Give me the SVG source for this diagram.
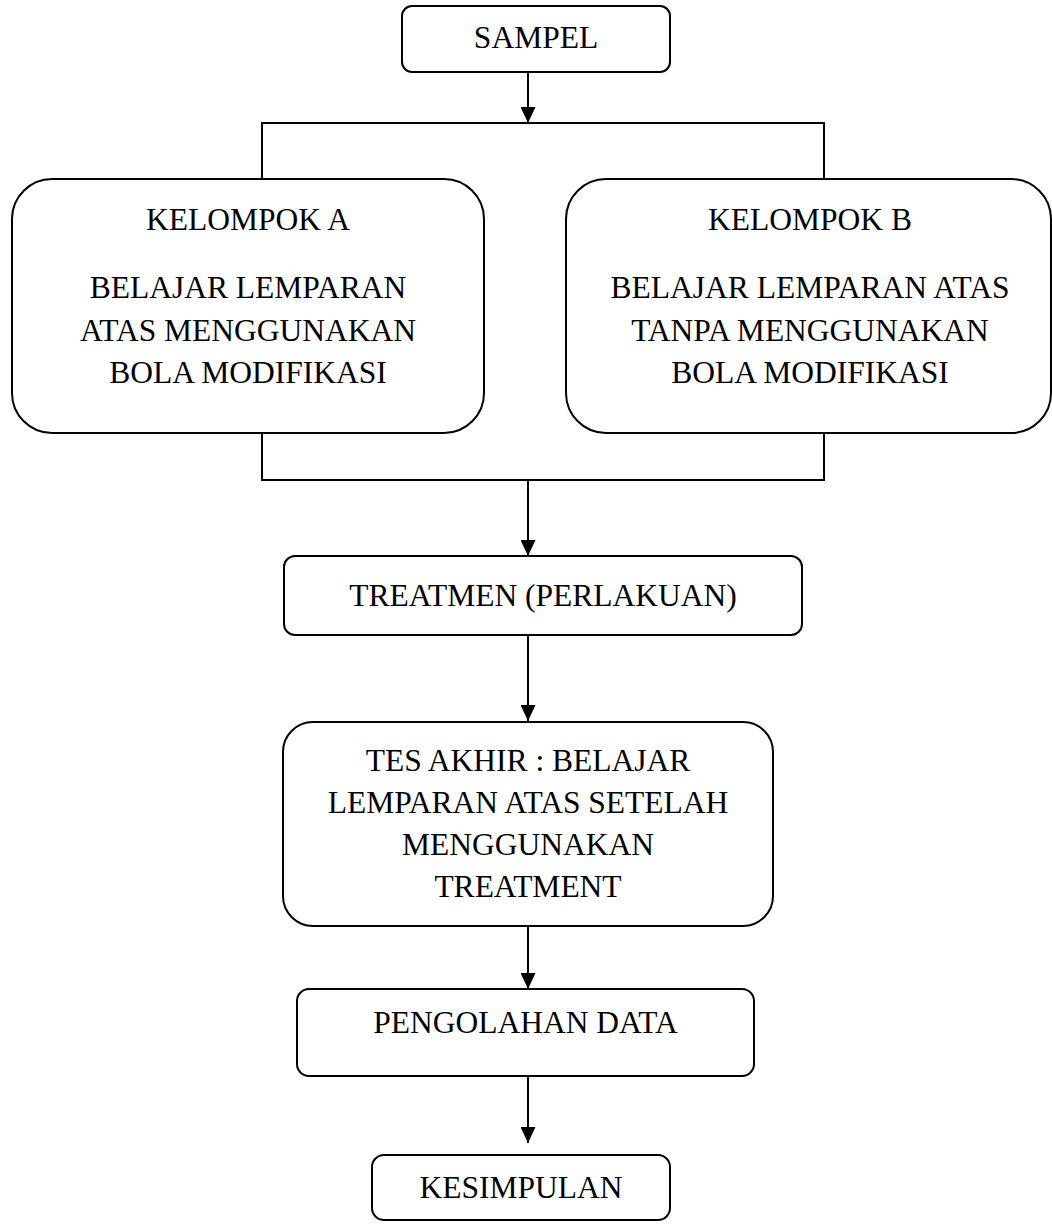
<svg xmlns="http://www.w3.org/2000/svg" width="1052" height="1230" viewBox="0 0 1052 1230">
<style>
.box{fill:#fff;stroke:#000;stroke-width:2}
.ln{fill:none;stroke:#000;stroke-width:2}
text{font-family:"Liberation Serif","Times New Roman",serif;font-size:31.5px;fill:#000;text-anchor:middle}
</style>
<defs>
<marker id="ah" viewBox="0 0 16 15" refX="16" refY="7.5" markerWidth="16" markerHeight="15" markerUnits="userSpaceOnUse" orient="auto">
<path d="M0,0 L16,7.5 L0,15 Z" fill="#000"/>
</marker>
</defs>
<rect width="1052" height="1230" fill="#fff"/>
<g id="connectors">
<line class="ln" x1="528" y1="72" x2="528" y2="123" marker-end="url(#ah)"/>
<polyline class="ln" points="262,179 262,123 824,123 824,179"/>
<polyline class="ln" points="262,433 262,480 824,480 824,433"/>
<line class="ln" x1="528" y1="480" x2="528" y2="556" marker-end="url(#ah)"/>
<line class="ln" x1="528" y1="635" x2="528" y2="721" marker-end="url(#ah)"/>
<line class="ln" x1="528" y1="926" x2="528" y2="989" marker-end="url(#ah)"/>
<line class="ln" x1="528" y1="1076" x2="528" y2="1143" marker-end="url(#ah)"/>
</g>
<g id="sampel">
<rect class="box" x="402" y="6" width="268" height="66" rx="10"/>
<text x="536" y="48">SAMPEL</text>
</g>
<g id="kelompok-a">
<rect class="box" x="12" y="179" width="472" height="254" rx="40"/>
<text x="248" y="230">KELOMPOK A</text>
<text x="248" y="298">BELAJAR LEMPARAN</text>
<text x="248" y="341">ATAS MENGGUNAKAN</text>
<text x="248" y="383">BOLA MODIFIKASI</text>
</g>
<g id="kelompok-b">
<rect class="box" x="566" y="179" width="485" height="254" rx="40"/>
<text x="810" y="230">KELOMPOK B</text>
<text x="810" y="298">BELAJAR LEMPARAN ATAS</text>
<text x="810" y="341">TANPA MENGGUNAKAN</text>
<text x="810" y="383">BOLA MODIFIKASI</text>
</g>
<g id="treatmen">
<rect class="box" x="284" y="556" width="518" height="79" rx="11"/>
<text x="543" y="606">TREATMEN (PERLAKUAN)</text>
</g>
<g id="tes-akhir">
<rect class="box" x="283" y="722" width="490" height="204" rx="30"/>
<text x="528" y="771">TES AKHIR : BELAJAR</text>
<text x="528" y="813">LEMPARAN ATAS SETELAH</text>
<text x="528" y="855">MENGGUNAKAN</text>
<text x="528" y="897">TREATMENT</text>
</g>
<g id="pengolahan">
<rect class="box" x="297" y="989" width="457" height="87" rx="12"/>
<text x="525.5" y="1033">PENGOLAHAN DATA</text>
</g>
<g id="kesimpulan">
<rect class="box" x="372" y="1155" width="298" height="65" rx="12"/>
<text x="521" y="1198">KESIMPULAN</text>
</g>
</svg>
